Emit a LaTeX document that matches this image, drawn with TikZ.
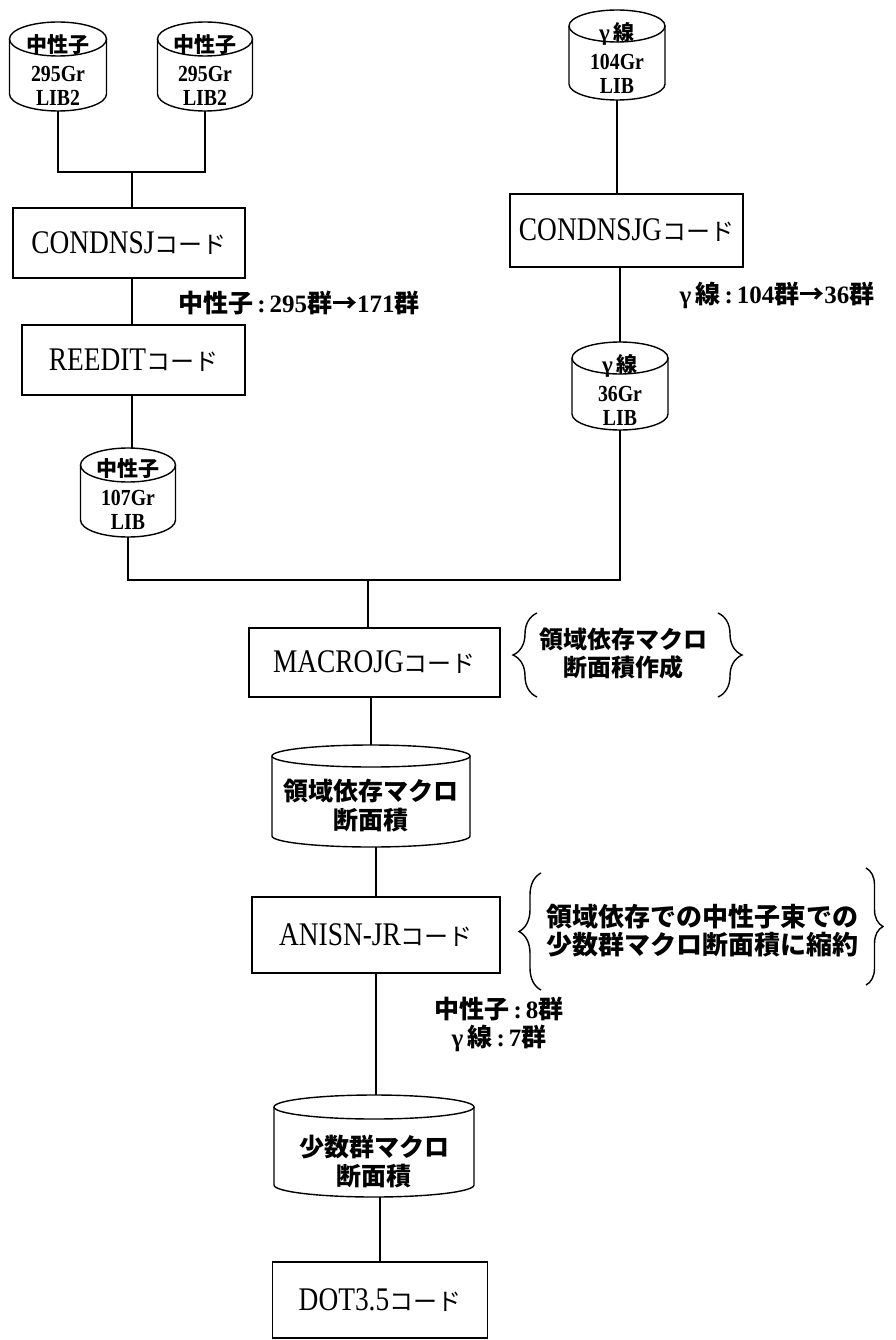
\documentclass[tikz,border=0pt]{standalone}
\usepackage{fontspec}
\usepackage{graphicx}
\setmainfont{Liberation Serif}
\newfontfamily\jp{Noto Sans CJK JP}
\usetikzlibrary{decorations.pathreplacing,calc}
\newcommand\jpt[1]{{\jp #1}}
\newcommand\cnd[1]{\scalebox{0.83}[1]{#1}}
\newcommand\cndc[1]{\scalebox{0.86}[1]{#1}}
\newcommand\kode{{\jp\fontsize{24}{28}\selectfont コード}}
\newcommand\clon{\kern4pt:\kern4pt}
\newcommand\cylnode[6]{%
  \node[cylbox, minimum width={#5*1pt}, minimum height={(#4-#3)*1pt}] (#1) at ({#2},{-(#3+#4)/2}) {};
  \draw[ln] ({#2-#5/2},{-#3-#6}) -- ({#2-#5/2},{-#4+#6}) arc[start angle=180,end angle=360,x radius={#5/2},y radius={#6}] -- ({#2+#5/2},{-#3-#6});
  \draw[ln] ({#2},{-#3-#6}) ellipse[x radius={#5/2},y radius={#6}];
}
\begin{document}
\begin{tikzpicture}[x=1pt,y=1pt,
  ln/.style={line width=1.4pt},
  box/.style={draw,line width=1.4pt,inner sep=0pt,outer sep=0pt,font=\fontsize{33}{36}\selectfont},
  cylbox/.style={inner sep=0pt,outer sep=0pt},
  ctext/.style={inner sep=0pt,align=center,font=\bfseries\fontsize{23}{24}\selectfont},
  btext/.style={inner sep=0pt,align=center,font=\jp\bfseries\fontsize{25}{29}\selectfont},
  lab/.style={inner sep=0pt,align=center,font=\bfseries\fontsize{25}{28}\selectfont},
  brc/.style={line width=1.4pt,decorate}]
\fill[white] (0,0) rectangle (895,-1340);
\useasboundingbox (0,0) rectangle (895,-1340);

% cylinders
\cylnode{a1}{58}{22}{111}{97}{17}
\node[ctext] (a1t) at (58,-70) {{\jp\fontsize{21}{24}\selectfont 中性子}\\[5pt]\cndc{295Gr}\\\cndc{LIB2}};
\cylnode{a2}{205}{22}{111}{95}{17}
\node[ctext] (a2t) at (205,-70) {{\jp\fontsize{21}{24}\selectfont 中性子}\\[5pt]\cndc{295Gr}\\\cndc{LIB2}};
\cylnode{g1}{617}{10}{100}{96}{16}
\node[ctext] (g1t) at (617,-58) {γ\,{\jp\fontsize{21}{24}\selectfont 線}\\[5pt]\cndc{104Gr}\\\cndc{LIB}};
\cylnode{g2}{620}{342}{430}{96}{16}
\node[ctext] (g2t) at (620,-390) {γ\,{\jp\fontsize{21}{24}\selectfont 線}\\[5pt]\cndc{36Gr}\\\cndc{LIB}};
\cylnode{b}{128}{448}{537}{95}{17}
\node[ctext] (bt) at (128,-494) {{\jp\fontsize{21}{24}\selectfont 中性子}\\[5pt]\cndc{107Gr}\\\cndc{LIB}};
\cylnode{c}{371}{745}{847}{198}{11}
\node[btext] (ct) at (371,-806) {領域依存マクロ\\断面積};
\cylnode{d}{374}{1095}{1197}{200}{12}
\node[btext] (dt) at (374,-1162) {少数群マクロ\\断面積};

% boxes
\node[box,minimum width=232pt,minimum height=70pt] (cj) at (129,-243) {\cnd{CONDNSJ}\kode};
\node[box,minimum width=223pt,minimum height=70pt] (re) at (133.5,-360) {\cnd{REEDIT}\kode};
\node[box,minimum width=233pt,minimum height=73pt] (cg) at (626.5,-230.5) {\cnd{CONDNSJG}\kode};
\node[box,minimum width=251pt,minimum height=69pt] (mj) at (374.5,-662.5) {\cnd{MACROJG}\kode};
\node[box,minimum width=248pt,minimum height=76pt] (an) at (376,-935) {\cnd{ANISN-JR}\kode};
\node[box,minimum width=215pt,minimum height=76pt] (dot) at (380,-1300) {\cnd{DOT3.5}\kode};

% labels
\node[lab] (l1) at (299,-303) {\jpt{中性子}\clon 295\jpt{群→}171\jpt{群}};
\node[lab] (l2) at (777,-295) {γ\,\jpt{線}\clon 104\jpt{群→}36\jpt{群}};
\node[lab] (l3) at (499,-1024) {\jpt{中性子}\clon 8\jpt{群}\\γ\,\jpt{線}\clon 7\jpt{群}};

% braces
\draw[brc,decoration={brace,amplitude=24pt}] (537,-697) -- (537,-613);
\draw[brc,decoration={brace,amplitude=24pt}] (718,-613) -- (718,-697);
\node[btext,font=\jp\bfseries\fontsize{24}{28}\selectfont] (bt1) at (623,-654) {領域依存マクロ\\断面積作成};
\draw[brc,decoration={brace,amplitude=22pt}] (541,-990) -- (541,-873);
\draw[brc,decoration={brace,amplitude=17pt}] (866,-868) -- (866,-985);
\node[btext,font=\jp\bfseries\fontsize{26}{28}\selectfont] (bt2) at (702,-931) {領域依存での中性子束での\\少数群マクロ断面積に縮約};

% connectors
\coordinate (j1) at (132,-172);
\draw[ln] (a1.south) |- (j1);
\draw[ln] (a2.south) |- (j1);
\draw[ln] (j1) -- (j1 |- cj.north);
\draw[ln] (j1 |- cj.south) -- (j1 |- re.north);
\draw[ln] (j1 |- re.south) -- (j1 |- b.north);
\draw[ln] (g1.south) -- (g1.south |- cg.north);
\draw[ln] (g2.north |- cg.south) -- (g2.north);
\coordinate (j2) at (368,-580);
\draw[ln] (b.south) |- (j2) -| (g2.south);
\draw[ln] (j2) -- (j2 |- mj.north);
\draw[ln] (c.north |- mj.south) -- (c.north);
\draw[ln] (an.north |- c.south) -- (an.north);
\draw[ln] (an.south) -- (an.south |- d.north);
\draw[ln] (dot.north |- d.south) -- (dot.north);
\end{tikzpicture}
\end{document}
